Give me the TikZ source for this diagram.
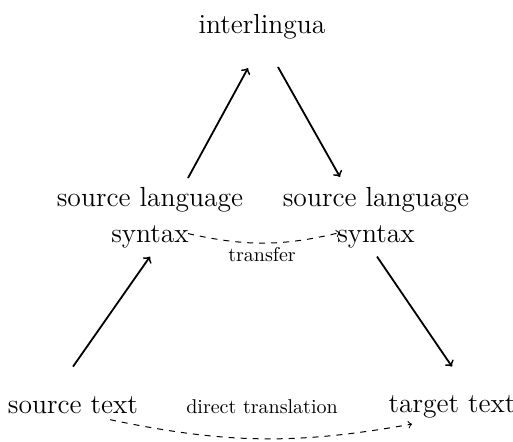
\documentclass[tikz,border=0pt]{standalone}
\usetikzlibrary{calc}
\begin{document}
\begin{tikzpicture}[x=0.5pt,y=-0.5pt,
  level/.style={inner sep=0pt,font=\fontsize{13.8}{18}\selectfont,align=center},
  note/.style={inner sep=0pt,font=\fontsize{10}{12}\selectfont},
  solidarrow/.style={->,line width=0.9pt},
  dasharrow/.style={->,dashed,line width=0.5pt}]
\useasboundingbox (0,0) rectangle (513,442);

% levels of the translation pyramid
\node[level,anchor=base] (il) at (262,34) {interlingua};
\node[level,anchor=north] (sls) at (150,187) {source language\\syntax};
\node[level,anchor=north] (srs) at (376,187) {source language\\syntax};
\node[level,anchor=base] (st) at (73,414) {source text};
\node[level,anchor=base] (tt) at (452,413) {target text};

% analysis and generation
\draw[solidarrow] ($(st.north)+(0,-30)$) -- ($(sls.south)+(0,8)$);
\draw[solidarrow] ($(sls.north)+(38,-9)$) -- ($(il.south)+(-14,28)$);
\draw[solidarrow] ($(il.south)+(16,27)$) -- ($(srs.north)+(-36,-10)$);
\draw[solidarrow] ($(srs.south)+(1,8)$) -- ($(tt.north)+(0,-29)$);

% transfer and direct translation
\draw[dasharrow] ($(sls.south)+(38,-15)$) to[bend right=13] ($(srs.south)+(-36,-16)$);
\node[note,anchor=base] (tr) at (262,262) {transfer};
\draw[dasharrow] ($(st.south)+(37,5)$) to[bend right=11] ($(tt.south)+(-40,5)$);
\node[note,anchor=base] (dt) at (262,414) {direct translation};
\end{tikzpicture}
\end{document}
